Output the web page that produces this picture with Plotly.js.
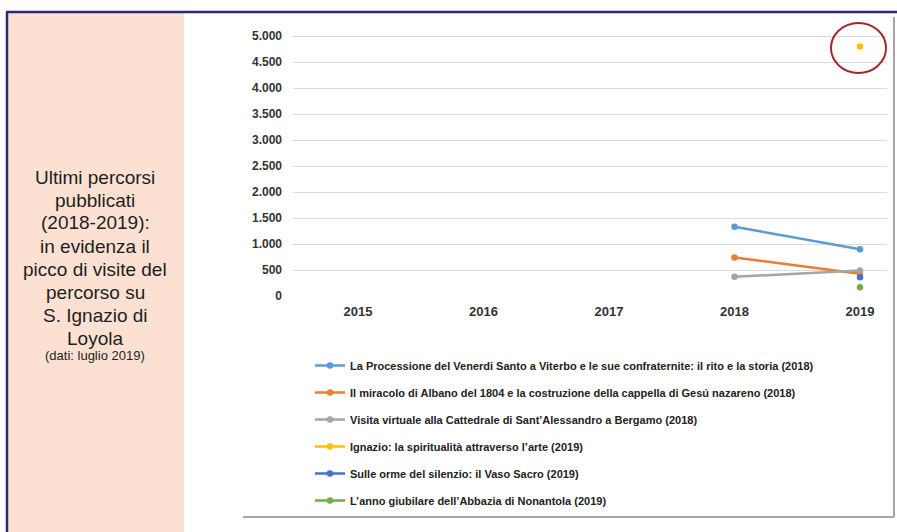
<!DOCTYPE html>
<html><head><meta charset="utf-8">
<script src="https://cdn.plot.ly/plotly-3.0.1.min.js"></script>
<style>html,body{margin:0;padding:0;background:#fff;overflow:hidden}#chart{width:897px;height:532px}</style>
</head><body><div id="chart"></div>
<script>
// ---- data ----
const years = ['2015', '2016', '2017', '2018', '2019'];
const seriesNames = [
  'La Processione del Venerdi Santo a Viterbo e le sue confraternite: il rito e la storia (2018)',
  'Il miracolo di Albano del 1804 e la costruzione della cappella di Gesú nazareno (2018)',
  'Visita virtuale alla Cattedrale di Sant\u2019Alessandro a Bergamo (2018)',
  'Ignazio: la spiritualità attraverso l\u2019arte (2019)',
  'Sulle orme del silenzio: il Vaso Sacro (2019)',
  'L\u2019anno giubilare dell\u2019Abbazia di Nonantola (2019)'
];
const processione = [null, null, null, 1330, 900];
const albano      = [null, null, null, 740, 430];
const bergamo     = [null, null, null, 370, 490];
const ignazio     = [null, null, null, null, 4800];
const vasoSacro   = [null, null, null, null, 360];
const nonantola   = [null, null, null, null, 170];
const yTicks = [0, 500, 1000, 1500, 2000, 2500, 3000, 3500, 4000, 4500, 5000];
const panelLines = ['Ultimi percorsi', 'pubblicati', '(2018-2019):', 'in evidenza il', 'picco di visite del', 'percorso su', 'S. Ignazio di', 'Loyola'];
const panelNote = '(dati: luglio 2019)';

// ---- styles ----
const seriesValues = [processione, albano, bergamo, ignazio, vasoSacro, nonantola];
const seriesColors = ['#5B9BD5', '#ED7D31', '#A5A5A5', '#FFC000', '#4472C4', '#70AD47'];

const L = 293, R = 887, T = 20, B = 296;
const px = x => (x - L) / (R - L);
const py = y => (B - y) / (B - T);
const yMax = (B - T) * 5000 / 260;
const xLo = (L - 358) / 125.5, xHi = 4 + (R - 860) / 125.5;

const traces = seriesValues.map((vals, i) => ({
  type: 'scatter', mode: 'lines+markers',
  x: years, y: vals, name: seriesNames[i],
  legendgroup: 'g' + i,
  line: {color: seriesColors[i], width: 2.5},
  marker: {color: seriesColors[i], size: 6.5},
  connectgaps: false, cliponaxis: false
}));

const shapes = [
  {type: 'rect', xref: 'paper', yref: 'paper', x0: px(8), x1: px(184), y0: py(13), y1: py(532), fillcolor: '#FCE1D2', line: {width: 0}, layer: 'below'},
  {type: 'line', xref: 'paper', yref: 'paper', x0: px(6), x1: px(897), y0: py(12), y1: py(12), line: {color: '#2B2B72', width: 2.5}},
  {type: 'line', xref: 'paper', yref: 'paper', x0: px(7), x1: px(7), y0: py(12), y1: py(532), line: {color: '#2B2B72', width: 2.5}},
  {type: 'line', xref: 'paper', yref: 'paper', x0: px(243), x1: px(894), y0: py(517), y1: py(517), line: {color: '#A6A6A6', width: 2}},
  {type: 'line', xref: 'paper', yref: 'paper', x0: px(894), x1: px(894), y0: py(17), y1: py(517), line: {color: '#A6A6A6', width: 2}},
  {type: 'circle', xref: 'paper', yref: 'paper', x0: px(831), x1: px(886), y0: py(23), y1: py(73), line: {color: '#A3262A', width: 2}}
];

const panelFont = {family: 'Liberation Sans, Arial, sans-serif', size: 19, color: '#1E1E1E'};
const annotations = panelLines.map((t, i) => ({
  xref: 'paper', yref: 'paper', x: px(95), y: py(177 + i * 23), xanchor: 'center', yanchor: 'middle',
  showarrow: false, text: t, font: panelFont
}));
annotations.push({xref: 'paper', yref: 'paper', x: px(95), y: py(355), xanchor: 'center', yanchor: 'middle', showarrow: false,
   text: panelNote, font: {family: 'Liberation Sans, Arial, sans-serif', size: 13, color: '#1E1E1E'}});

const layout = {
  width: 897, height: 532,
  margin: {l: L, r: 897 - R, t: T, b: 532 - B, pad: 0},
  paper_bgcolor: '#FFFFFF', plot_bgcolor: 'rgba(0,0,0,0)',
  separators: ',.',
  showlegend: true,
  legend: {x: px(310), y: py(351), xanchor: 'left', yanchor: 'top', orientation: 'v',
    tracegroupgap: 8, bgcolor: 'rgba(0,0,0,0)',
    font: {family: 'Liberation Sans Narrow, Arial Narrow, sans-serif', size: 11, color: '#222222', weight: 'bold'}},
  xaxis: {type: 'category', range: [xLo, xHi], showgrid: false, zeroline: false, showline: false, ticks: '',
    tickfont: {family: 'Liberation Sans, Arial, sans-serif', size: 13, color: '#333333', weight: 'bold'}, ticklabelstandoff: 6, fixedrange: true},
  yaxis: {range: [0, yMax], tickvals: yTicks, tickformat: ',', showgrid: true, gridcolor: '#DCDCDC', gridwidth: 1,
    zeroline: false, showline: false, ticks: '', ticklabelstandoff: 10,
    tickfont: {family: 'Liberation Sans, Arial, sans-serif', size: 12, color: '#333333', weight: 'bold'}, fixedrange: true},
  shapes: shapes, annotations: annotations
};

Plotly.newPlot('chart', traces, layout, {staticPlot: true, displayModeBar: false});
</script></body></html>
